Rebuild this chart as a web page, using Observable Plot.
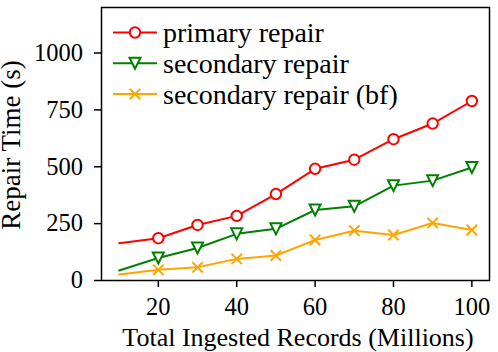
<!DOCTYPE html>
<html><head><meta charset="utf-8">
<script src="https://cdn.jsdelivr.net/npm/d3@7"></script>
<script src="https://cdn.jsdelivr.net/npm/@observablehq/plot@0.6"></script>
<style>body{margin:0;background:#fff} svg{display:block} #chart svg, #chart svg text{font-family:"Liberation Serif", serif !important;}</style>
</head><body><div id="chart"></div>
<script>
const records = [10, 20, 30, 40, 50, 60, 70, 80, 90, 100];
const primaryRepair = [164, 186, 244, 284, 380, 491, 531, 621, 690, 789];
const secondaryRepair = [44, 99, 143, 205, 227, 310, 326, 417, 439, 497];
const secondaryRepairBf = [26, 47, 58, 95, 110, 178, 219, 200, 253, 222];
const seriesNames = ["primary repair", "secondary repair", "secondary repair (bf)"];
const seriesColors = ["#ff0000", "#008000", "#ffa500"];
const xTicks = [20, 40, 60, 80, 100];
const yTicks = [0, 250, 500, 750, 1000];
const xLabel = "Total Ingested Records (Millions)";
const yLabel = "Repair Time (s)";

const triangleDown = {draw(ctx, size) {const r = Math.sqrt(size / Math.PI); ctx.moveTo(0, r); ctx.lineTo(-r, -r); ctx.lineTo(r, -r); ctx.closePath();}};
const timesSym = {draw(ctx, size) {const r = Math.sqrt(size / Math.PI); ctx.moveTo(-r, -r); ctx.lineTo(r, r); ctx.moveTo(-r, r); ctx.lineTo(r, -r);}};
const symbols = [d3.symbolCircle, triangleDown, timesSym];
const radii = [5.2, 5.5, 5.2];

const allSeries = [primaryRepair, secondaryRepair, secondaryRepairBf];
const rows = allSeries.flatMap((vals, s) => vals.map((v, i) => ({x: records[i], y: v, s, i})));

const font = "'Liberation Serif', serif";
const marks = [
  Plot.axisX({ticks: xTicks, tickFormat: d => String(d), tickSize: 7, tickPadding: 10, fontSize: 24.5, label: null, stroke: "black", strokeWidth: 1.5}),
  Plot.axisY({ticks: yTicks, tickFormat: d => String(d), tickSize: 7, tickPadding: 11.5, fontSize: 24.5, label: null, stroke: "black", strokeWidth: 1.5}),
];
allSeries.forEach((vals, s) => {
  const d = rows.filter(r => r.s === s);
  marks.push(Plot.line(d, {x: "x", y: "y", stroke: seriesColors[s], strokeWidth: 2}));
  marks.push(Plot.dot(d.filter(r => r.i > 0), {x: "x", y: "y", symbol: () => symbols[s], r: radii[s], stroke: seriesColors[s], strokeWidth: 2, fill: s === 2 ? "none" : "white"}));
});
marks.push(Plot.frame({stroke: "black", strokeWidth: 1.5}));

const chart = Plot.plot({
  width: 498, height: 352,
  marginLeft: 101, marginRight: 9, marginTop: 7, marginBottom: 72,
  style: {fontFamily: font, fontSize: "24px", color: "black", background: "white", overflow: "visible"},
  x: {domain: [5.5, 104.5]},
  y: {domain: [0, 1200]},
  symbol: {type: "identity"},
  marks
});
const svg = d3.select(chart);
svg.append("text").attr("x", 298).attr("y", 345.5).attr("text-anchor", "middle")
  .style("font-size", "26px").attr("fill", "black").text(xLabel);
svg.append("text").attr("transform", "translate(20,145) rotate(-90)").attr("text-anchor", "middle")
  .style("font-size", "27px").attr("fill", "black").text(yLabel);
const leg = svg.append("g");
seriesNames.forEach((name, s) => {
  const cy = 32.5 + s * 30.8;
  leg.append("line").attr("x1", 113).attr("x2", 157).attr("y1", cy).attr("y2", cy)
    .attr("stroke", seriesColors[s]).attr("stroke-width", 2);
  leg.append("path").attr("transform", `translate(135,${cy})`)
    .attr("d", d3.symbol(symbols[s], radii[s] * radii[s] * Math.PI)())
    .attr("stroke", seriesColors[s]).attr("stroke-width", 2).attr("fill", s === 2 ? "none" : "white");
  leg.append("text").attr("x", 163).attr("y", cy + 9.5).attr("text-anchor", "start")
    .style("font-size", "28px").attr("fill", "black").text(name);
});
document.getElementById("chart").appendChild(chart);
</script></body></html>
